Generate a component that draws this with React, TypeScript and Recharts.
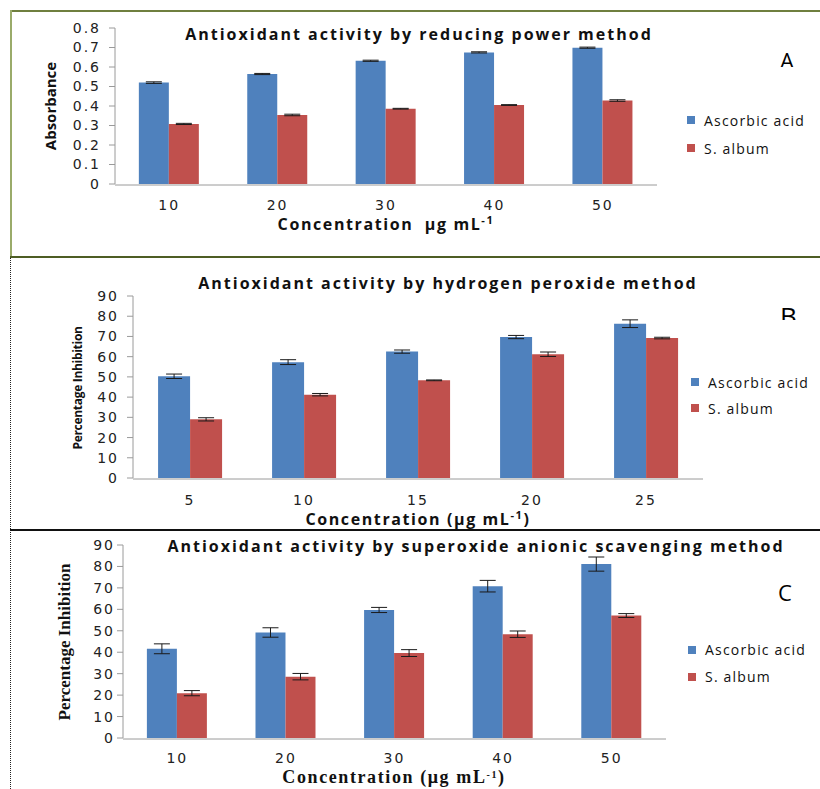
import React from 'react';
import { BarChart, Bar, XAxis, YAxis, ErrorBar, Legend } from 'recharts';

// panel A - reducing power
const concA = ['10', '20', '30', '40', '50'];
const ascorbicA = [0.52, 0.564, 0.632, 0.675, 0.699];
const ascorbicAErr = [0.004, 0.003, 0.003, 0.003, 0.003];
const albumA = [0.308, 0.354, 0.386, 0.405, 0.428];
const albumAErr = [0.003, 0.004, 0.002, 0.002, 0.004];
const ticksA = [0, 0.1, 0.2, 0.3, 0.4, 0.5, 0.6, 0.7, 0.8];

// panel B - hydrogen peroxide
const concB = ['5', '10', '15', '20', '25'];
const ascorbicB = [50.3, 57.3, 62.5, 69.7, 76.3];
const ascorbicBErr = [1.1, 1.2, 0.8, 0.8, 1.9];
const albumB = [29.0, 41.2, 48.3, 61.2, 69.2];
const albumBErr = [0.8, 0.6, 0.2, 1.1, 0.4];
const ticksB = [0, 10, 20, 30, 40, 50, 60, 70, 80, 90];

// panel C - superoxide anion scavenging
const concC = ['10', '20', '30', '40', '50'];
const ascorbicC = [41.6, 49.2, 59.7, 70.8, 81.1];
const ascorbicCErr = [2.3, 2.2, 1.2, 2.7, 3.3];
const albumC = [20.9, 28.6, 39.6, 48.4, 57.1];
const albumCErr = [1.2, 1.5, 1.6, 1.5, 0.9];
const ticksC = [0, 10, 20, 30, 40, 50, 60, 70, 80, 90];

const edgeTicks = [0, 1, 2, 3, 4, 5];

const blue = '#4F81BD';
const red = '#C0504D';
const axisGray = '#9a9a9a';
const sans = '"Open Sans", Arial, sans-serif';
const serif = '"Liberation Serif", "Times New Roman", serif';
const tickFont = { fontFamily: 'DejaVu Sans, Verdana, sans-serif', fontSize: 14, fill: '#222', letterSpacing: 2 };

const buildRows = (conc: string[], asc: number[], ascErr: number[], alb: number[], albErr: number[]) =>
  conc.map((c, i) => ({ conc: c, edge: i, asc: asc[i], ascErr: ascErr[i], alb: alb[i], albErr: albErr[i] }));

const rowsA = buildRows(concA, ascorbicA, ascorbicAErr, albumA, albumAErr);
const rowsB = buildRows(concB, ascorbicB, ascorbicBErr, albumB, albumBErr);
const rowsC = buildRows(concC, ascorbicC, ascorbicCErr, albumC, albumCErr);

const legendContent = (itemH: number) => (props: any) => (
  <div style={{ fontFamily: sans, fontSize: 14, letterSpacing: 1.2, color: '#111' }}>
    {(props.payload || []).map((p: any) => (
      <div key={p.value} style={{ display: 'flex', alignItems: 'center', height: itemH }}>
        <span style={{ display: 'inline-block', width: 8, height: 8, background: p.color, marginRight: 9 }} />
        <span>{p.value}</span>
      </div>
    ))}
  </div>
);

type PanelProps = {
  rows: any[];
  top: number;
  height: number;
  margin: { top: number; right: number; bottom: number; left: number };
  yMax: number;
  yTicks: number[];
  yTickMargin: number;
  xTickMargin: number;
  legendLeft: number;
  legendTop: number;
  legendItemH: number;
};

function Panel(p: PanelProps) {
  return (
    <div style={{ position: 'absolute', left: 0, top: p.top }}>
      <BarChart width={820} height={p.height} data={p.rows} margin={p.margin} barGap={0} barCategoryGap="22%">
        <XAxis
          xAxisId="edge"
          type="number"
          dataKey="edge"
          domain={[0, 5]}
          ticks={edgeTicks}
          allowDataOverflow
          height={1}
          axisLine={{ stroke: axisGray }}
          tick={false}
          tickSize={6}
          tickLine={{ stroke: axisGray }}
        />
        <XAxis
          dataKey="conc"
          height={1}
          tickLine={false}
          axisLine={false}
          tick={tickFont}
          tickMargin={p.xTickMargin}
        />
        <YAxis
          domain={[0, p.yMax]}
          ticks={p.yTicks}
          interval={0}
          width={60}
          tickSize={6}
          tickMargin={p.yTickMargin}
          axisLine={{ stroke: axisGray }}
          tickLine={{ stroke: axisGray }}
          tick={tickFont}
        />
        <Legend
          layout="horizontal"
          align="center"
          verticalAlign="middle"
          content={legendContent(p.legendItemH)}
          wrapperStyle={{ left: p.legendLeft, top: p.legendTop, width: 135 }}
        />
        <Bar dataKey="asc" name="Ascorbic acid" fill={blue} isAnimationActive={false}>
          <ErrorBar dataKey="ascErr" width={8} stroke="#1a1a1a" strokeWidth={1} />
        </Bar>
        <Bar dataKey="alb" name="S. album" fill={red} isAnimationActive={false}>
          <ErrorBar dataKey="albErr" width={8} stroke="#1a1a1a" strokeWidth={1} />
        </Bar>
      </BarChart>
    </div>
  );
}

const centered = (x: number, y: number, extra: React.CSSProperties = {}): React.CSSProperties => ({
  position: 'absolute',
  left: x,
  top: y,
  transform: 'translate(-50%, -50%)',
  whiteSpace: 'nowrap',
  color: '#111',
  lineHeight: 1.1,
  ...extra,
});

const rotated = (x: number, y: number, extra: React.CSSProperties = {}): React.CSSProperties => ({
  position: 'absolute',
  left: x,
  top: y,
  transform: 'translate(-50%, -50%) rotate(-90deg)',
  whiteSpace: 'nowrap',
  color: '#111',
  ...extra,
});

const titleStyle = { fontFamily: sans, fontWeight: 700, fontSize: 16, letterSpacing: 2 };
const axisTitleStyle = { fontFamily: sans, fontWeight: 700, fontSize: 16, letterSpacing: 1.6 };

export default function App() {
  return (
    <div style={{ position: 'absolute', left: 0, top: 0, width: 820, height: 789, overflow: 'hidden', background: '#fff' }}>
      {/* panel frames */}
      <div style={{ position: 'absolute', left: 10, top: 10, width: 810, height: 2, background: '#6f7f3f' }} />
      <div style={{ position: 'absolute', left: 10, top: 10, width: 2, height: 248, background: '#9aab6a' }} />
      <div style={{ position: 'absolute', left: 10, top: 256, width: 810, height: 2, background: '#4d5d24' }} />
      <div style={{ position: 'absolute', left: 10, top: 258, width: 0, height: 531, borderLeft: '1px dotted #222' }} />
      <div style={{ position: 'absolute', left: 10, top: 529, width: 810, height: 2, background: '#111' }} />

      <Panel
        rows={rowsA}
        top={0}
        height={258}
        margin={{ top: 28, right: 163, bottom: 72, left: 55 }}
        yMax={0.8}
        yTicks={ticksA}
        yTickMargin={8}
        xTickMargin={10}
        legendLeft={687}
        legendTop={106}
        legendItemH={28}
      />
      <Panel
        rows={rowsB}
        top={258}
        height={272}
        margin={{ top: 38, right: 117, bottom: 50, left: 73 }}
        yMax={90}
        yTicks={ticksB}
        yTickMargin={8}
        xTickMargin={11}
        legendLeft={691}
        legendTop={111}
        legendItemH={26}
      />
      <Panel
        rows={rowsC}
        top={531}
        height={258}
        margin={{ top: 14, right: 154, bottom: 49, left: 63 }}
        yMax={90}
        yTicks={ticksC}
        yTickMargin={2}
        xTickMargin={9}
        legendLeft={688}
        legendTop={105}
        legendItemH={27}
      />

      {/* titles */}
      <div style={centered(419, 35, titleStyle)}>Antioxidant activity by reducing power method</div>
      <div style={centered(448, 284, titleStyle)}>Antioxidant activity by hydrogen peroxide method</div>
      <div style={centered(476, 547, titleStyle)}>Antioxidant activity by superoxide anionic scavenging method</div>

      {/* axis titles */}
      <div style={centered(386, 225, axisTitleStyle)}>
        Concentration&nbsp; μg mL<sup style={{ fontSize: 11, lineHeight: 0 }}>-1</sup>
      </div>
      <div style={centered(418, 520, axisTitleStyle)}>
        Concentration (μg mL<sup style={{ fontSize: 11, lineHeight: 0 }}>-1</sup>)
      </div>
      <div style={centered(394, 777, { fontFamily: serif, fontWeight: 700, fontSize: 18, letterSpacing: 1.6, lineHeight: 1 })}>
        Concentration (μg mL<span style={{ fontSize: 10, position: 'relative', top: -5 }}>-1</span>)
      </div>
      <div style={rotated(50, 106, { fontFamily: sans, fontWeight: 700, fontSize: 15 })}>Absorbance</div>
      <div style={rotated(77, 388, { fontFamily: sans, fontWeight: 700, fontSize: 12, letterSpacing: -0.3 })}>
        Percentage Inhibition
      </div>
      <div style={rotated(65, 642, { fontFamily: serif, fontWeight: 700, fontSize: 17 })}>Percentage Inhibition</div>

      {/* panel letters (A and B are cut off in the source) */}
      <div style={{ position: 'absolute', left: 780, top: 49, height: 18, overflow: 'hidden', fontFamily: sans, fontSize: 22, lineHeight: 1 }}>
        A
      </div>
      <div style={{ position: 'absolute', left: 780, top: 303, height: 17, overflow: 'hidden', fontFamily: sans, fontSize: 26, lineHeight: 1 }}>
        B
      </div>
      <div style={{ position: 'absolute', left: 778, top: 581, fontFamily: sans, fontSize: 22, lineHeight: 1 }}>C</div>
    </div>
  );
}
